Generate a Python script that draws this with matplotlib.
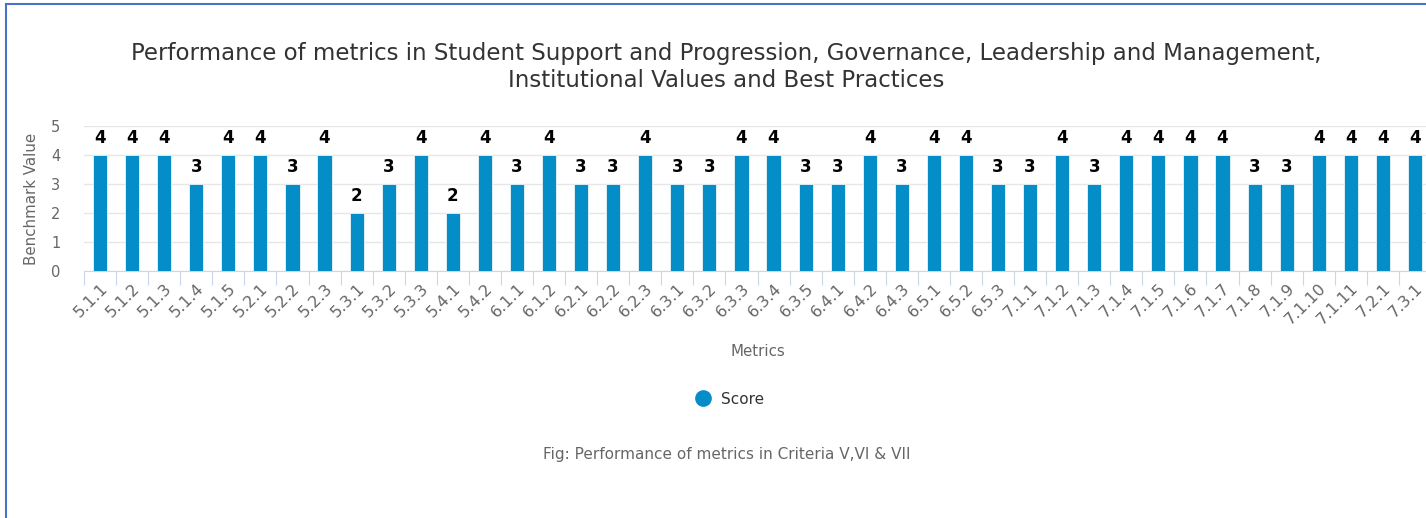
import matplotlib.pyplot as plt
from matplotlib.lines import Line2D

metrics = ['5.1.1', '5.1.2', '5.1.3', '5.1.4', '5.1.5', '5.2.1', '5.2.2', '5.2.3',
           '5.3.1', '5.3.2', '5.3.3', '5.4.1', '5.4.2', '6.1.1', '6.1.2', '6.2.1',
           '6.2.2', '6.2.3', '6.3.1', '6.3.2', '6.3.3', '6.3.4', '6.3.5', '6.4.1',
           '6.4.2', '6.4.3', '6.5.1', '6.5.2', '6.5.3', '7.1.1', '7.1.2', '7.1.3',
           '7.1.4', '7.1.5', '7.1.6', '7.1.7', '7.1.8', '7.1.9', '7.1.10', '7.1.11',
           '7.2.1', '7.3.1']
scores = [4, 4, 4, 3, 4, 4, 3, 4, 2, 3, 4, 2, 4, 3, 4, 3, 3, 4, 3, 3, 4, 4, 3, 3,
          4, 3, 4, 4, 3, 3, 4, 3, 4, 4, 4, 4, 3, 3, 4, 4, 4, 4]
yticks = [0, 1, 2, 3, 4, 5]

bar_color = '#058dc7'
grid_color = '#e6e6e6'
axis_color = '#ccd6eb'

W, H = 1426, 518
fig = plt.figure(figsize=(W / 100, H / 100), dpi=100)

# blue frame on left/top
fig.add_artist(Line2D([6 / W, 6 / W], [0, 1 - 4 / H], color='#4a72c8', lw=1.5))
fig.add_artist(Line2D([6 / W, 1], [1 - 4 / H, 1 - 4 / H], color='#4a72c8', lw=1.5))

ax = fig.add_axes([84 / W, 1 - 271 / H, (1431 - 84) / W, (271 - 126) / H])
x = range(len(metrics))
ax.bar(x, scores, width=0.44, color=bar_color, edgecolor='white', linewidth=0.5, zorder=3)
for i, v in zip(x, scores):
    ax.annotate(str(v), (i, v), xytext=(0, 6), textcoords='offset points',
                ha='center', va='bottom', fontsize=12, fontweight='bold', color='black')

ax.set_xlim(-0.5, len(metrics) - 0.5)
ax.set_ylim(0, 5)
ax.set_yticks(yticks)
ax.yaxis.grid(True, color=grid_color, lw=1, zorder=0)
ax.tick_params(axis='y', length=0, labelsize=10.5, labelcolor='#666666', pad=17)
for s in ['top', 'right', 'left']:
    ax.spines[s].set_visible(False)
ax.spines['bottom'].set_color(axis_color)

ax.set_xticks([i - 0.5 for i in range(len(metrics))], minor=False)
ax.set_xticklabels([])
ax.tick_params(axis='x', which='major', length=10, color=axis_color, direction='out')
ax.set_xticks(list(x), minor=True)
ax.set_xticklabels(metrics, minor=True, rotation=45, ha='right', va='top',
                   rotation_mode='anchor', fontsize=11.5, color='#666666')
ax.tick_params(axis='x', which='minor', length=0, pad=7)

ax.set_ylabel('Benchmark Value', fontsize=10.8, color='#666666', labelpad=9)
ax.set_xlabel('Metrics', fontsize=10.8, color='#666666', labelpad=12)

fig.text(726 / W, 1 - 67 / H,
         'Performance of metrics in Student Support and Progression, Governance, Leadership and Management,\nInstitutional Values and Best Practices',
         ha='center', va='center', fontsize=16.5, color='#333333', linespacing=1.2)

fig.legend(handles=[Line2D([], [], marker='o', ls='', color=bar_color, markersize=11)],
           labels=['Score'], loc='center', bbox_to_anchor=(726 / W, 1 - 399 / H),
           frameon=False, fontsize=11, handletextpad=0.2, labelcolor='#333333')

fig.text(727 / W, 1 - 455 / H, 'Fig: Performance of metrics in Criteria V,VI & VII',
         ha='center', va='center', fontsize=11, color='#666666')

fig.savefig('out.png', dpi=100)
